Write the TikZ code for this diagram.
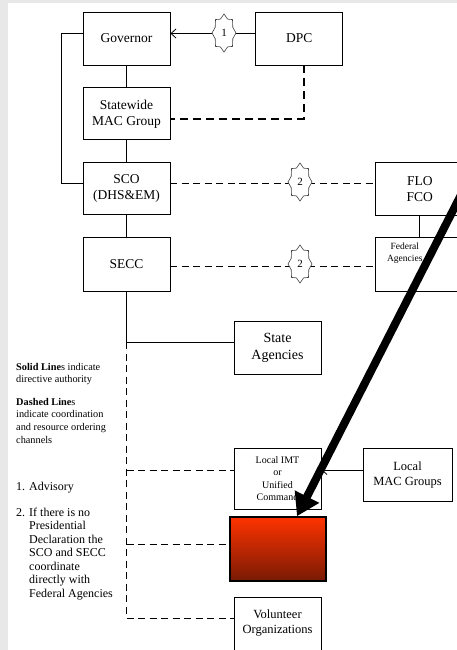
\documentclass[tikz,border=0pt]{standalone}
\usepackage{fontspec}
\setmainfont{Liberation Serif}
\usetikzlibrary{positioning,arrows.meta}
\definecolor{pagegray}{HTML}{E8E8E8}
\definecolor{hotred}{HTML}{FF3300}
\definecolor{darkred}{HTML}{781A04}

\begin{document}
\begin{tikzpicture}[x=1pt,y=-1pt,>={Straight Barb[length=5pt,width=9pt]},
  box/.style={draw,line width=0.8pt,fill=white,minimum width=87pt,minimum height=53pt,align=center,inner sep=1pt,font=\fontsize{13.5}{16}\selectfont},
  link/.style={line width=0.8pt},
  coord/.style={line width=0.8pt,dash pattern=on 7pt off 4.5pt},
  advise/.style={line width=1.6pt,dash pattern=on 8pt off 5pt},
  tagstar/.style={draw=black!75,fill=white,line width=0.6pt},
  tagnum/.style={inner sep=0pt,font=\fontsize{11}{12}\selectfont},
  legend/.style={anchor=base west,inner sep=0pt,font=\fontsize{10.3}{12.7}\selectfont},
  note/.style={anchor=base west,inner sep=0pt,font=\fontsize{12}{13.5}\selectfont},
  pointer/.style={line width=8pt,-{Triangle[length=22pt,width=26pt]}}]
\useasboundingbox (0,0) rectangle (457,650);
\clip (0,0) rectangle (457,650);
\fill[pagegray] (0,0) rectangle (457,650);
\fill[white] (8,3) rectangle (457,650);

% state chain
\node[box] (gov) at (126.5,38.5) {Governor};
\node[box,right=85pt of gov] (dpc) {DPC};
\node[box,below=22pt of gov,minimum height=52pt] (mac) {Statewide\\MAC Group};
\node[box,below=22pt of mac,minimum height=52pt] (sco) {SCO\\(DHS\&EM)};
\node[box,below=22pt of sco,minimum height=54pt] (secc) {SECC};
\node[box,right=205pt of sco,minimum width=88pt] (flo) {FLO\\FCO};
\node[box,right=205pt of secc,minimum width=88pt,minimum height=54pt] (fed) {};
\node[anchor=north,inner sep=0pt,align=center,font=\fontsize{9.5}{12}\selectfont] (fedtxt) at ([xshift=-15pt,yshift=-6pt]fed.north) {Federal\\Agencies};

% local level
\node[box,font=\fontsize{14}{17}\selectfont] (sa) at (277.5,347.5) {State\\Agencies};
\node[box,minimum height=61pt,font=\fontsize{10}{12.5}\selectfont] (imt) at (277.5,478.5) {Local IMT\\or\\Unified\\Command};
\node[box,minimum width=89pt,font=\fontsize{12.5}{15}\selectfont] (lmac) at (407.5,474.5) {Local\\MAC Groups};
\node[draw,line width=1.6pt,minimum width=96pt,minimum height=64pt,top color=hotred,bottom color=darkred] (red) at (278,549) {};
\node[box,font=\fontsize{12.5}{15}\selectfont] (vol) at (277.5,623.5) {Volunteer\\Organizations};

% legend
\node[legend] (solid) at (16,370) {\begin{tabular}[t]{@{}l@{}}\textbf{Solid Line}s indicate\\directive authority\end{tabular}};
\node[legend] (dashed) at (16,405) {\begin{tabular}[t]{@{}l@{}}\textbf{Dashed Line}s\\indicate coordination\\and resource ordering\\channels\end{tabular}};
\node[note] (adv) at (16,490) {\begin{tabular}[t]{@{}l@{\hspace{4pt}}l@{}}1. & Advisory\end{tabular}};
\node[note] (nodecl) at (16,516) {\begin{tabular}[t]{@{}l@{\hspace{4pt}}l@{}}2. & If there is no\\ & Presidential\\ & Declaration the\\ & SCO and SECC\\ & coordinate\\ & directly with\\ & Federal Agencies\end{tabular}};

% connectors
\draw[link] (gov) -- (mac);
\draw[link] (mac) -- (sco);
\draw[link] (sco) -- (secc);
\draw[link] ([yshift=5pt]gov.west) -- ++(-21,0) |- ([yshift=5pt]sco.west);
\draw[link,->] ([yshift=5pt]dpc.west) -- ([yshift=5pt]gov.east);
\draw[advise] ([xshift=4.5pt]dpc.south) |- ([yshift=-5pt]mac.east);
\draw[coord] ([yshift=5pt]sco.east) -- ([yshift=5pt]sco.east -| flo.west);
\draw[coord] ([yshift=-2pt]secc.east) -- ([yshift=-2pt]secc.east -| fed.west);
\draw[link] (flo) -- (fed);
\coordinate (split) at ([yshift=5.5pt]sa.west -| secc.south);
\draw[link] (secc.south) |- ([yshift=5.5pt]sa.west);
\draw[coord] (split) |- ([yshift=5.5pt]vol.west);
\draw[coord] ([yshift=8.5pt]imt.west -| split) -- ([yshift=8.5pt]imt.west);
\draw[coord] ([yshift=5pt]red.west -| split) -- ([yshift=5pt]red.west);
\draw[link,->] ([yshift=4.5pt]lmac.west) -- ([yshift=8.5pt]imt.east);

% numbered tags on the lines
\foreach \x/\y/\n [count=\i] in {224/33/1,300/182/2,300/264/2}{
  \draw[tagstar,shift={(\x,\y)}] (90:12 and 19)
    \foreach \a in {90,135,...,405}{ -- (\a+22.5:9.5 and 15) -- (\a+45:12 and 19)} -- cycle;
  \node[tagnum] (tag\i) at (\x,\y) {\n};
}

% big pointer
\coordinate (tail) at (466,185);
\draw[pointer] (tail) -- ([xshift=19pt]red.north);
\end{tikzpicture}
\end{document}
